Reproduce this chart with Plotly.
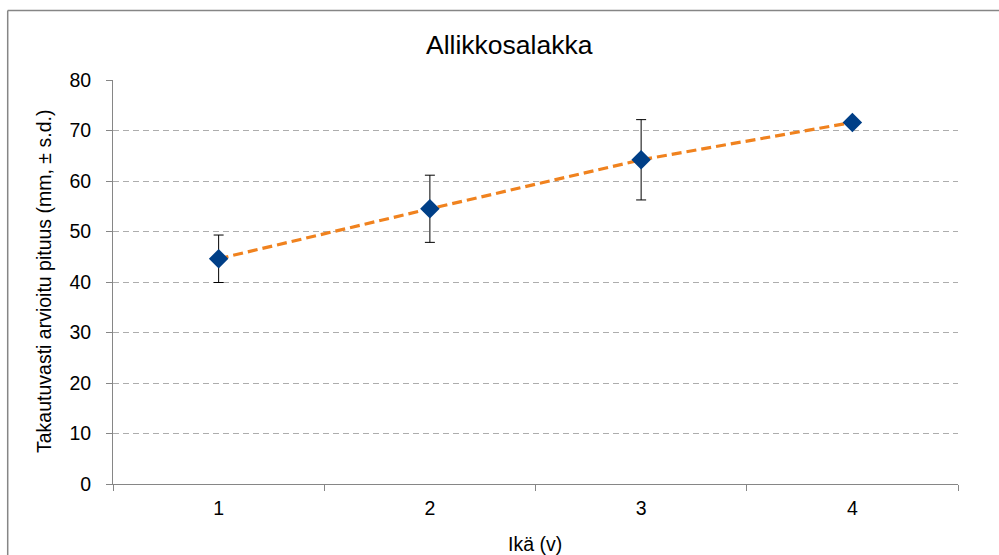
import plotly.graph_objects as go

ages = [1, 2, 3, 4]
lengths = [44.6, 54.5, 64.2, 71.6]
sd = [4.7, 6.65, 7.95, 0]
x_labels = ["1", "2", "3", "4"]
y_ticks = [0, 10, 20, 30, 40, 50, 60, 70, 80]

FONT = "Liberation Sans, Arial, sans-serif"
W, H = 999, 555
L, T = 113, 80
pw, ph = 845, 404
R, B = W - L - pw, H - T - ph

def px(xp):
    return (xp - L) / pw

def py(yp):
    return (T + ph - yp) / ph

fig = go.Figure()
fig.add_trace(go.Scatter(
    x=ages, y=lengths, mode="lines",
    line=dict(color="#F0821E", width=3.2, dash="10px,5px"),
    hoverinfo="skip", showlegend=False,
))
fig.add_trace(go.Scatter(
    x=ages, y=lengths, mode="markers",
    marker=dict(symbol="diamond", size=15, color="#003F87",
                line=dict(width=0)),
    error_y=dict(type="data", array=sd, visible=True,
                 color="#000000", thickness=1, width=5),
    showlegend=False,
))

border = dict(color="#868686", width=1.5)
fig.update_layout(
    width=W, height=H,
    margin=dict(l=L, r=R, t=T, b=B),
    paper_bgcolor="white", plot_bgcolor="white",
    font=dict(family=FONT, color="#000000", size=19.5),
    xaxis=dict(
        range=[0.5, 4.5], tickvals=ages, ticktext=x_labels,
        ticks="", showgrid=False, zeroline=False,
        showline=True, linecolor="#868686", linewidth=1,
        tickfont=dict(size=19.5), ticklabelstandoff=7,
        minor=dict(ticks="outside", tick0=0.5, dtick=1, ticklen=6,
                   tickcolor="#868686", showgrid=False),
    ),
    yaxis=dict(
        range=[0, 80], tickvals=y_ticks,
        ticks="outside", ticklen=6, tickcolor="#868686",
        showgrid=True, gridcolor="#ADADAD", griddash="6px,4px", gridwidth=1,
        zeroline=False, showline=True, linecolor="#868686", linewidth=1,
        tickfont=dict(size=19.5), ticklabelstandoff=11,
    ),
    shapes=[
        dict(type="line", xref="paper", yref="paper",
             x0=px(7.7), x1=px(1005), y0=py(10.5), y1=py(10.5),
             line=border, layer="below"),
        dict(type="line", xref="paper", yref="paper",
             x0=px(7.7), x1=px(7.7), y0=py(10.5), y1=py(560),
             line=border, layer="below"),
    ],
    annotations=[
        dict(text="Allikkosalakka", x=px(509), y=py(45), xref="paper", yref="paper",
             showarrow=False, font=dict(size=26.5), xanchor="center", yanchor="middle"),
        dict(text="Ikä (v)", x=px(535), y=py(544), xref="paper", yref="paper",
             showarrow=False, font=dict(size=19.5), xanchor="center", yanchor="middle"),
        dict(text="Takautuvasti arvioitu pituus (mm, ± s.d.)", x=px(44), y=py(282),
             xref="paper", yref="paper", textangle=-90,
             showarrow=False, font=dict(size=19.5), xanchor="center", yanchor="middle"),
    ],
)

fig.write_html(
    "out.html",
    config={"displayModeBar": False},
    post_script="document.body.style.margin='0';document.body.style.overflow='hidden';",
)
